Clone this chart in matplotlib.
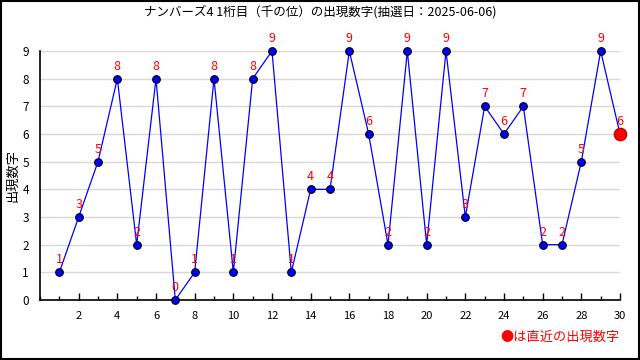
import numpy as np
import matplotlib
matplotlib.use("Agg")
import matplotlib.pyplot as plt
from matplotlib.ticker import MultipleLocator

plt.rcParams['font.family'] = ['Noto Sans CJK JP', 'DejaVu Sans']

draws = list(range(1, 31))
digits = [1, 3, 5, 8, 2, 8, 0, 1, 8, 1, 8, 9, 1, 4, 4, 9, 6, 2, 9, 2,
          9, 3, 7, 6, 7, 2, 2, 5, 9, 6]
title = "ナンバーズ4 1桁目（千の位）の出現数字(抽選日：2025-06-06)"

fig = plt.figure(figsize=(6.4, 3.6), dpi=100)
ax = fig.add_axes([40 / 640, 60 / 360, 580 / 640, 249 / 360])

ax.plot(draws, digits, color="#0000ff", linewidth=0.9,
        marker="o", markersize=5.5, markerfacecolor="#0000ff",
        markeredgecolor="black", markeredgewidth=0.8, zorder=3, clip_on=False)
ax.plot(draws[-1], digits[-1], "o", color="red", markersize=9,
        markeredgecolor="#aa0000", markeredgewidth=0.8, zorder=4, clip_on=False)

for x, y in zip(draws, digits):
    ax.text(x, y + 0.22, str(y), color="red", fontsize=9,
            ha="center", va="bottom", zorder=5)

ax.set_xlim(0, 30)
ax.set_ylim(0, 9)
ax.set_xticks(list(range(2, 31, 2)))
ax.xaxis.set_minor_locator(MultipleLocator(1))
ax.yaxis.set_major_locator(MultipleLocator(1))
ax.tick_params(axis="x", which="major", direction="in", length=5, width=1,
               labelsize=8, pad=8)
ax.tick_params(axis="x", which="minor", direction="in", length=3, width=1)
ax.tick_params(axis="y", length=0, labelsize=8.5, pad=8)
ax.grid(axis="y", color="#d8d8d8", linewidth=1)
ax.set_axisbelow(True)
for s in ["top", "right"]:
    ax.spines[s].set_visible(False)
ax.spines["left"].set_linewidth(1.2)
ax.spines["bottom"].set_linewidth(1.2)

fig.text(13 / 640, 1 - 175 / 360, "出現数字", rotation=90, ha="center",
         va="center", fontsize=9.5)
fig.text(0.5, 1 - 12 / 360, title, ha="center", va="center", fontsize=9)
fig.text(620 / 640, 1 - 337 / 360, "●は直近の出現数字", color="red",
         ha="right", va="center", fontsize=9.5)

fig.patches.append(plt.Rectangle((0.001, 0.002), 0.997, 0.996, transform=fig.transFigure,
                                 fill=False, edgecolor="black", linewidth=1.5))

fig.savefig("out.png", dpi=100)
